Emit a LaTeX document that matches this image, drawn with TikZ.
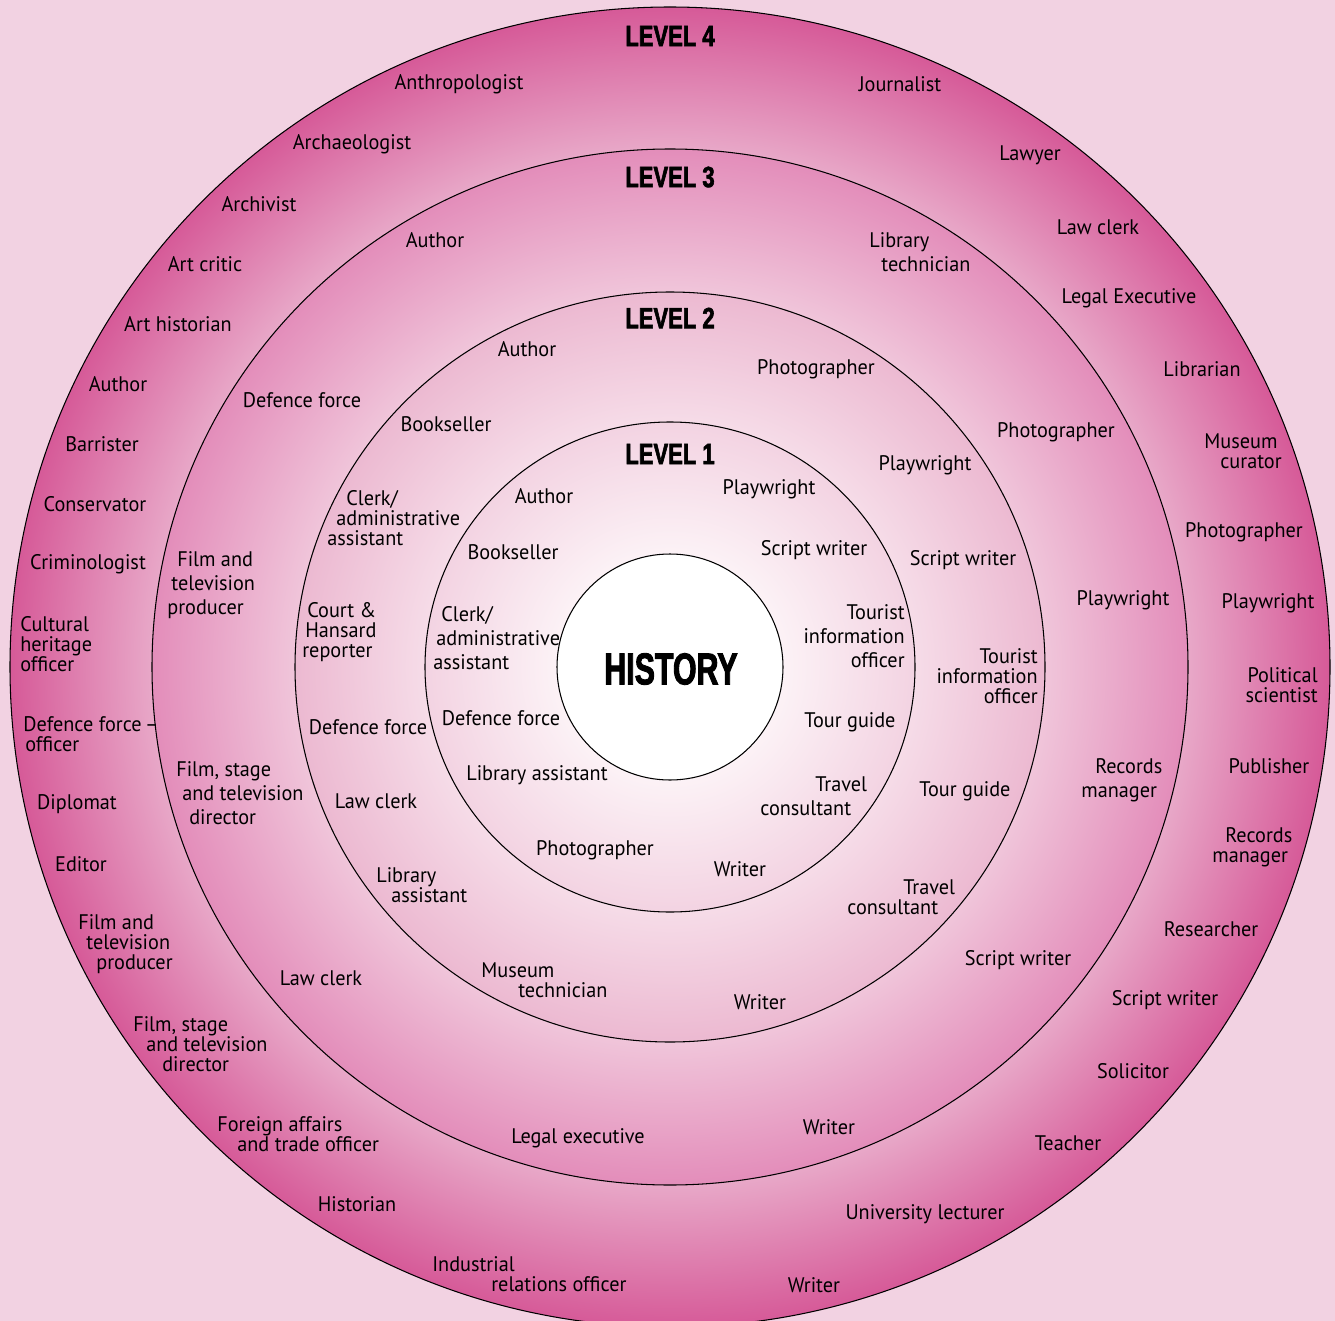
\documentclass[tikz,border=0pt]{standalone}
\usepackage{fontspec}
\setmainfont{PT Sans}[FakeStretch=0.96]
\newfontfamily\titlefont{Liberation Sans Bold}[FakeStretch=0.68,FakeBold=2]
\newfontfamily\levelfont{Liberation Sans Bold}[FakeStretch=0.75,FakeBold=2]
\newlength\pxl
\setlength\pxl{0.02cm}
\definecolor{bgpink}{HTML}{F2D2E2}
\definecolor{fourout}{HTML}{D65A98}
\definecolor{fourin}{HTML}{E8A8C8}
\definecolor{threeout}{HTML}{E38DBA}
\definecolor{threein}{HTML}{F0C5DA}
\definecolor{twoout}{HTML}{ECB9D1}
\definecolor{twoin}{HTML}{F6DCE8}
\definecolor{oneout}{HTML}{F3D3E2}
\definecolor{onein}{HTML}{FCF2F6}
\pgfdeclareradialshading{ringfour}{\pgfpointorigin}{color(0bp)=(white); color(19.6bp)=(fourin); color(25bp)=(fourout); color(50bp)=(fourout)}
\pgfdeclareradialshading{ringthree}{\pgfpointorigin}{color(0bp)=(white); color(18.1bp)=(threein); color(25bp)=(threeout); color(50bp)=(threeout)}
\pgfdeclareradialshading{ringtwo}{\pgfpointorigin}{color(0bp)=(white); color(16.3bp)=(twoin); color(25bp)=(twoout); color(50bp)=(twoout)}
\pgfdeclareradialshading{ringone}{\pgfpointorigin}{color(0bp)=(white); color(11.5bp)=(onein); color(25bp)=(oneout); color(50bp)=(oneout)}
\tikzset{
  ring/.style={draw=black, line width=0.6pt},
  job/.style={font=\fontsize{12}{11.4}\selectfont, inner sep=0pt},
  jobwide/.style={font=\fontsize{12}{13.7}\selectfont, inner sep=0pt},
  level/.style={font=\levelfont\fontsize{16.7}{18}\selectfont, inner sep=0pt},
}
\begin{document}
\begin{tikzpicture}[x=0.02cm, y=-0.02cm]
    \useasboundingbox (0,0) rectangle (1335,1321);
    \fill[bgpink] (0,0) rectangle (1335,1321);
    \coordinate (C) at (670,667);
    \shade[shading=ringfour, ring] (C) circle (660);
    \shade[shading=ringthree, ring] (C) circle (518);
    \shade[shading=ringtwo, ring] (C) circle (375);
    \shade[shading=ringone, ring] (C) circle (245);
    \filldraw[fill=white, ring] (C) circle (113);

    \node[level] (lv4) at (670,36) {LEVEL 4};
    \node[level] (lv3) at (670,177) {LEVEL 3};
    \node[level] (lv2) at (670,318) {LEVEL 2};
    \node[level] (lv1) at (670,454) {LEVEL 1};
    \node[inner sep=0pt, font=\titlefont\fontsize{25.4}{26}\selectfont] (history) at (671,669) {HISTORY};

    \node[job] (anthropologist) at (459,84) {Anthropologist};
    \node[job] (archaeologist) at (352,144) {Archaeologist};
    \node[job] (archivist) at (259,204) {Archivist};
    \node[job] (artcritic) at (205,264) {Art critic};
    \node[job] (arthistorian) at (178,324) {Art historian};
    \node[job] (author4) at (118,384) {Author};
    \node[job] (barrister) at (102,444) {Barrister};
    \node[job] (conservator) at (95,504) {Conservator};
    \node[job] (criminologist) at (88,564) {Criminologist};
    \node[job, align=left, anchor=west] (heritage) at (20,644) {Cultural\\heritage\\officer};
    \node[job, align=left, anchor=west] (defofficer) at (23,734) {Defence force\,--\\\hspace*{2\pxl}officer};
    \node[job] (diplomat) at (77,804) {Diplomat};
    \node[job] (editor) at (81,864) {Editor};
    \node[job, align=left, anchor=west] (producer4) at (78,944) {Film and\\\hspace*{8\pxl}television\\\hspace*{18\pxl}producer};
    \node[job, align=left, anchor=west] (director4) at (133,1044) {Film, stage\\\hspace*{13\pxl}and television\\\hspace*{29\pxl}director};
    \node[job, align=left, anchor=west] (foreign) at (217,1134) {Foreign affairs\\\hspace*{20\pxl}and trade officer};
    \node[job] (historian) at (357,1204) {Historian};
    \node[job, align=left, anchor=west] (industrial) at (432,1274) {Industrial\\\hspace*{59\pxl}relations officer};
    \node[job] (journalist) at (900,84) {Journalist};
    \node[job] (lawyer) at (1030,155) {Lawyer};
    \node[job] (lawclerk4) at (1098,227) {Law clerk};
    \node[job] (legalexec4) at (1129,298) {Legal Executive};
    \node[job] (librarian) at (1202,369) {Librarian};
    \node[job, align=left, anchor=west] (curator) at (1204,451) {Museum\\\hspace*{16\pxl}curator};
    \node[job] (photographer4) at (1244,532) {Photographer};
    \node[job] (playwright4) at (1268,603) {Playwright};
    \node[job, align=right, anchor=east] (political) at (1318,685) {Political\\scientist};
    \node[job] (publisher) at (1269,766) {Publisher};
    \node[job, align=left, anchor=west] (records4) at (1212,847) {\hspace*{13\pxl}Records\\manager};
    \node[job] (researcher) at (1211,929) {Researcher};
    \node[job] (script4) at (1165,1000) {Script writer};
    \node[job] (solicitor) at (1133,1071) {Solicitor};
    \node[job] (teacher) at (1068,1143) {Teacher};
    \node[job] (lecturer) at (925,1214) {University lecturer};
    \node[job] (writer4) at (814,1285) {Writer};

    \node[job] (author3) at (435,240) {Author};
    \node[job] (defence3) at (302,400) {Defence force};
    \node[jobwide, align=left, anchor=west] (producer3) at (167,585) {\hspace*{10\pxl}Film and\\\hspace*{4\pxl}television\\producer};
    \node[jobwide, align=left, anchor=west] (director3) at (176,793) {Film, stage\\\hspace*{6\pxl}and television\\\hspace*{13\pxl}director};
    \node[job] (lawclerk3) at (321,978) {Law clerk};
    \node[job] (legalexec3) at (578,1138) {Legal executive};
    \node[jobwide, align=left, anchor=west] (libtech) at (869,252) {Library\\\hspace*{12\pxl}technician};
    \node[job] (photographer3) at (1056,432) {Photographer};
    \node[job] (playwright3) at (1123,600) {Playwright};
    \node[jobwide, align=left, anchor=west] (records3) at (1081,780) {\hspace*{14\pxl}Records\\manager};
    \node[job] (script3) at (1018,960) {Script writer};
    \node[job] (writer3) at (829,1127) {Writer};

    \node[job] (author2) at (527,349) {Author};
    \node[job] (bookseller2) at (446,424) {Bookseller};
    \node[job, align=left, anchor=west] (clerk2) at (327,518) {\hspace*{19\pxl}Clerk/\\\hspace*{9\pxl}administrative\\assistant};
    \node[job, align=left, anchor=west] (hansard) at (302,632) {\hspace*{5\pxl}Court \&\\\hspace*{3\pxl}Hansard\\reporter};
    \node[job] (defence2) at (368,727) {Defence force};
    \node[job] (lawclerk2) at (376,801) {Law clerk};
    \node[job, align=left, anchor=west] (libassist2) at (376,885) {Library\\\hspace*{15\pxl}assistant};
    \node[job, align=left, anchor=west] (museumtech) at (481,980) {Museum\\\hspace*{37\pxl}technician};
    \node[job] (photographer2) at (816,369) {Photographer};
    \node[job] (playwright2) at (925,465) {Playwright};
    \node[job] (script2) at (963,560) {Script writer};
    \node[job, align=right, anchor=east] (tourist2) at (1038,676) {Tourist\\information\\officer};
    \node[job] (tourguide2) at (965,791) {Tour guide};
    \node[job, align=left, anchor=west] (travel2) at (847,897) {\hspace*{56\pxl}Travel\\consultant};
    \node[job] (writer2) at (760,1002) {Writer};

    \node[job] (author1) at (544,496) {Author};
    \node[job] (bookseller1) at (513,552) {Bookseller};
    \node[jobwide, align=left, anchor=west] (clerk1) at (433,638) {\hspace*{8\pxl}Clerk/\\\hspace*{3\pxl}administrative\\assistant};
    \node[job] (defence1) at (501,718) {Defence force};
    \node[job] (libassist1) at (537,775) {Library assistant};
    \node[job] (photographer1) at (595,850) {Photographer};
    \node[job] (playwright1) at (769,489) {Playwright};
    \node[job] (script1) at (814,550) {Script writer};
    \node[jobwide, align=right, anchor=east] (tourist1) at (905,636) {Tourist\\information\\officer};
    \node[job] (tourguide1) at (850,722) {Tour guide};
    \node[jobwide, align=left, anchor=west] (travel1) at (760,796) {\hspace*{55\pxl}Travel\\consultant};
    \node[job] (writer1) at (740,869) {Writer};
\end{tikzpicture}
\end{document}
